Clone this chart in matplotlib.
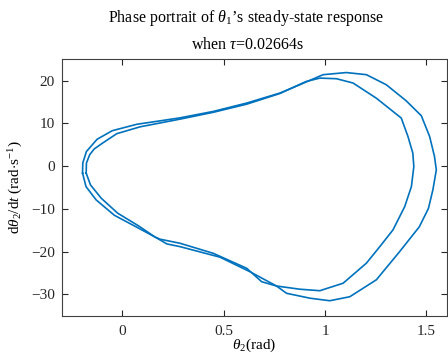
import matplotlib
matplotlib.use("Agg")
import matplotlib.pyplot as plt

plt.rcParams['font.family'] = ['Liberation Serif', 'DejaVu Serif']
plt.rcParams['mathtext.fontset'] = 'custom'
plt.rcParams['mathtext.rm'] = 'Liberation Serif'
plt.rcParams['mathtext.it'] = 'Liberation Serif:italic'
plt.rcParams['mathtext.bf'] = 'Liberation Serif:bold'

# outer loop (first period), clockwise from the left nose
outer_x = [-0.197, -0.196, -0.178, -0.125, -0.050, 0.071, 0.186, 0.284, 0.448, 0.613, 0.777, 0.875,
           0.990, 1.105, 1.204, 1.302, 1.400, 1.475, 1.516, 1.540, 1.549, 1.532, 1.510, 1.465,
           1.368, 1.253, 1.122, 1.023, 0.925, 0.810, 0.760, 0.629, 0.481, 0.284, 0.219, 0.161,
           0.071, -0.040, -0.130, -0.180]
outer_y = [-1.64, 0.7, 3.42, 6.3, 8.3, 9.8, 10.6, 11.3, 12.8, 14.76, 17.1, 19.05,
           21.4, 21.9, 21.4, 19.05, 15.3, 11.79, 6.93, 2.25, -0.87, -5.55, -9.9, -14.2,
           -20.0, -26.6, -30.56, -31.5, -30.9, -29.76, -28.05, -24.7, -21.3, -18.84, -18.2, -16.6,
           -14.3, -11.5, -7.9, -4.78]

# inner loop (second period)
inner_x = [-0.179, -0.178, -0.162, -0.140, -0.098, -0.028, 0.087, 0.284, 0.448, 0.613, 0.777, 0.906,
           0.974, 1.056, 1.138, 1.253, 1.376, 1.409, 1.433, 1.438, 1.426, 1.393, 1.335, 1.270,
           1.204, 1.089, 0.974, 0.875, 0.760, 0.687, 0.613, 0.448, 0.284, 0.186, 0.161, 0.080,
           -0.024, -0.105, -0.158]
inner_y = [-1.64, 0.7, 2.65, 4.0, 5.4, 7.6, 9.2, 11.0, 12.6, 14.5, 17.0, 19.8,
           20.6, 20.46, 19.45, 15.9, 11.25, 6.94, 3.05, -0.1, -4.78, -9.47, -14.93, -18.84,
           -22.7, -27.4, -29.15, -28.8, -28.05, -27.05, -23.9, -20.4, -18.05, -17.1, -16.6, -14.0,
           -11.0, -7.5, -4.38]

xticks = [0, 0.5, 1, 1.5]
xticklabels = ['0', '0.5', '1', '1.5']
yticks = [-30, -20, -10, 0, 10, 20]
yticklabels = ['\u221230', '\u221220', '\u221210', '0', '10', '20']

fig = plt.figure(figsize=(4.48, 3.56), dpi=100)
ax = fig.add_axes([0.1377, 0.1132, 0.997 - 0.1377, 0.8334 - 0.1132])

for lx, ly in [(outer_x, outer_y), (inner_x, inner_y)]:
    ax.plot(lx + [lx[0]], ly + [ly[0]], color='#0072BD', lw=1.2, solid_joinstyle='round')

ax.set_xlim(-0.3, 1.6)
ax.set_ylim(-35, 25)
ax.set_xticks(xticks)
ax.set_xticklabels(xticklabels)
ax.set_yticks(yticks)
ax.set_yticklabels(yticklabels)
ax.tick_params(direction='in', top=True, right=True, length=4, width=0.8,
               labelsize=11, colors='#262626')
ax.tick_params(axis='x', pad=7)
ax.tick_params(axis='y', pad=5)
for s in ax.spines.values():
    s.set_color('#404040')
    s.set_linewidth(0.8)

ax.set_xlabel(r"$\theta_2$(rad)", fontsize=11, labelpad=-1)
ax.set_ylabel(r"d$\theta_2$/d$t$ (rad$\cdot$s$^{-1}$)", fontsize=11, labelpad=4)

fig.text(0.55, 1 - 18 / 356, r"Phase portrait of $\theta_1$’s steady-state response",
         ha='center', va='center', fontsize=11.5)
fig.text(0.553, 1 - 45 / 356, r"when $\tau$=0.02664s", ha='center', va='center', fontsize=11.5)

fig.savefig('out.png', dpi=100)
